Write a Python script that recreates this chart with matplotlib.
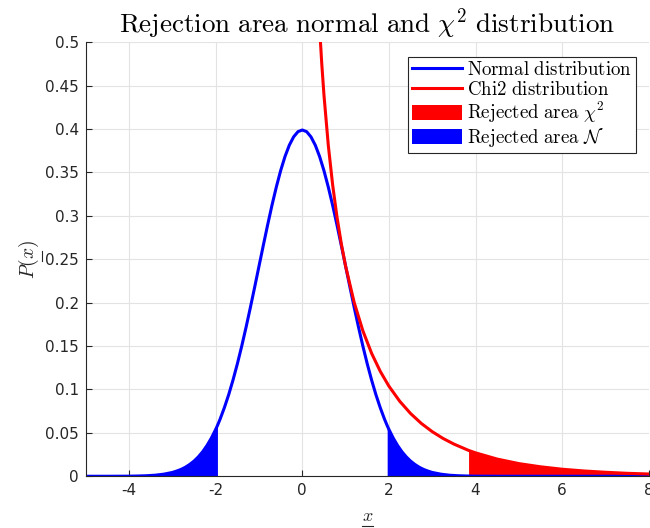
import matplotlib
matplotlib.use("Agg")
import matplotlib.pyplot as plt
from matplotlib.patches import Patch
from matplotlib.lines import Line2D
from matplotlib.transforms import IdentityTransform

plt.rcParams['mathtext.fontset'] = 'cm'
plt.rcParams['font.family'] = 'DejaVu Sans'
plt.rcParams['axes.unicode_minus'] = False

# Normal distribution
x_norm = [-5, -4.5, -4, -3.8, -3.6, -3.4, -3.2, -3.0, -2.9, -2.8, -2.7, -2.6, -2.5,
          -2.4, -2.3, -2.2, -2.1, -2.0, -1.96, -1.9, -1.8, -1.7, -1.6, -1.5, -1.4,
          -1.3, -1.2, -1.1, -1.0, -0.9, -0.8, -0.7, -0.6, -0.5, -0.4, -0.3, -0.2,
          -0.1, 0.0, 0.1, 0.2, 0.3, 0.4, 0.5, 0.6, 0.7, 0.8, 0.9, 1.0, 1.1, 1.2,
          1.3, 1.4, 1.5, 1.6, 1.7, 1.8, 1.9, 1.96, 2.0, 2.1, 2.2, 2.3, 2.4, 2.5,
          2.6, 2.7, 2.8, 2.9, 3.0, 3.2, 3.4, 3.6, 3.8, 4, 4.5, 5, 6, 7, 8]
p_norm = [0.0000, 0.0000, 0.0001, 0.0003, 0.0006, 0.0012, 0.0024, 0.0044, 0.0060,
          0.0079, 0.0104, 0.0136, 0.0175, 0.0224, 0.0283, 0.0355, 0.0440, 0.0540,
          0.0584, 0.0656, 0.0790, 0.0940, 0.1109, 0.1295, 0.1497, 0.1714, 0.1942,
          0.2179, 0.2420, 0.2661, 0.2897, 0.3123, 0.3332, 0.3521, 0.3683, 0.3814,
          0.3910, 0.3970, 0.3989, 0.3970, 0.3910, 0.3814, 0.3683, 0.3521, 0.3332,
          0.3123, 0.2897, 0.2661, 0.2420, 0.2179, 0.1942, 0.1714, 0.1497, 0.1295,
          0.1109, 0.0940, 0.0790, 0.0656, 0.0584, 0.0540, 0.0440, 0.0355, 0.0283,
          0.0224, 0.0175, 0.0136, 0.0104, 0.0079, 0.0060, 0.0044, 0.0024, 0.0012,
          0.0006, 0.0003, 0.0001, 0.0000, 0.0000, 0.0000, 0.0000, 0.0000]

# Chi2 (1 dof)
x_chi = [0.35, 0.4, 0.45, 0.5, 0.6, 0.7, 0.8, 0.9, 1.0, 1.2, 1.4, 1.6, 1.8, 2.0,
         2.25, 2.5, 2.75, 3.0, 3.25, 3.5, 3.84, 4.0, 4.5, 5.0, 5.5, 6.0, 6.5, 7.0,
         7.5, 8.0]
p_chi = [0.5661, 0.5164, 0.4749, 0.4394, 0.3815, 0.3360, 0.2990, 0.2681, 0.2420,
         0.1999, 0.1674, 0.1417, 0.1209, 0.1038, 0.0864, 0.0723, 0.0608, 0.0514,
         0.0436, 0.0371, 0.0298, 0.0270, 0.0198, 0.0146, 0.0109, 0.0081, 0.0061,
         0.0046, 0.0034, 0.0026]

z_crit = 1.96
chi_crit = 3.84

fig = plt.figure(figsize=(6.5, 5.28), dpi=100)
ax = fig.add_axes([0.132, 0.098, 0.866, 0.822])

# rejected areas
xl = [x for x in x_norm if x <= -z_crit]
yl = [p for x, p in zip(x_norm, p_norm) if x <= -z_crit]
xr = [x for x in x_norm if x >= z_crit]
yr = [p for x, p in zip(x_norm, p_norm) if x >= z_crit]
xc = [x for x in x_chi if x >= chi_crit]
yc = [p for x, p in zip(x_chi, p_chi) if x >= chi_crit]
ax.fill_between(xc, 0, yc, color='red', linewidth=0, zorder=1)
ax.fill_between(xl, 0, yl, color='blue', linewidth=0, zorder=1)
ax.fill_between(xr, 0, yr, color='blue', linewidth=0, zorder=1)

ax.plot(x_norm, p_norm, color='blue', lw=2.2, zorder=2)
ax.plot(x_chi, p_chi, color='red', lw=2.2, zorder=3)

ax.set_xlim(-5, 8)
ax.set_ylim(0, 0.5)
ax.set_xticks([-4, -2, 0, 2, 4, 6, 8])
yt = [0, 0.05, 0.1, 0.15, 0.2, 0.25, 0.3, 0.35, 0.4, 0.45, 0.5]
ax.set_yticks(yt)
ax.set_yticklabels(['0', '0.05', '0.1', '0.15', '0.2', '0.25', '0.3', '0.35',
                    '0.4', '0.45', '0.5'])
ax.tick_params(direction='in', length=4, labelsize=11, colors='#262626',
               width=0.8, pad=5)
ax.grid(True, color='#e3e3e3', linewidth=0.8)
ax.set_axisbelow(True)
for s in ['top', 'right']:
    ax.spines[s].set_visible(False)
for s in ['left', 'bottom']:
    ax.spines[s].set_color('#262626')
    ax.spines[s].set_linewidth(0.8)

ax.set_title(r'$\mathrm{Rejection\ area\ normal\ and\ }\chi^2\mathrm{\ distribution}$',
             fontsize=19.5, pad=7)
xlab = ax.set_xlabel(r'$x$', fontsize=13, color='#262626', labelpad=6)
ylab = ax.set_ylabel(r'$P(x)$', fontsize=14, color='#262626', labelpad=3)

handles = [Line2D([], [], color='blue', lw=2.2),
           Line2D([], [], color='red', lw=2.2),
           Patch(facecolor='red'),
           Patch(facecolor='blue')]
labels = [r'$\mathrm{Normal\ distribution}$', r'$\mathrm{Chi2\ distribution}$',
          r'$\mathrm{Rejected\ area\ }\chi^2$', r'$\mathrm{Rejected\ area\ }\mathcal{N}$']
leg = ax.legend(handles, labels, loc='upper right', bbox_to_anchor=(0.978, 0.967),
                fontsize=13.6, fancybox=False, framealpha=1, edgecolor='#262626',
                handlelength=2.65, handleheight=0.85, handletextpad=0.3,
                labelspacing=0.05, borderpad=0.2, borderaxespad=0)
leg.get_frame().set_linewidth(0.8)

# underline the random variable x (mathtext has no \underline)
fig.canvas.draw()
r = fig.canvas.get_renderer()
bx = xlab.get_window_extent(r)
fig.add_artist(Line2D([bx.x0, bx.x1], [bx.y0 - 1, bx.y0 - 1], color='#262626',
                      lw=0.8, transform=IdentityTransform()))
by = ylab.get_window_extent(r)
h = by.y1 - by.y0
fig.add_artist(Line2D([by.x1 + 1, by.x1 + 1], [by.y0 + 0.45 * h, by.y0 + 0.72 * h],
                      color='#262626', lw=0.8, transform=IdentityTransform()))

fig.savefig('out.png', dpi=100)
